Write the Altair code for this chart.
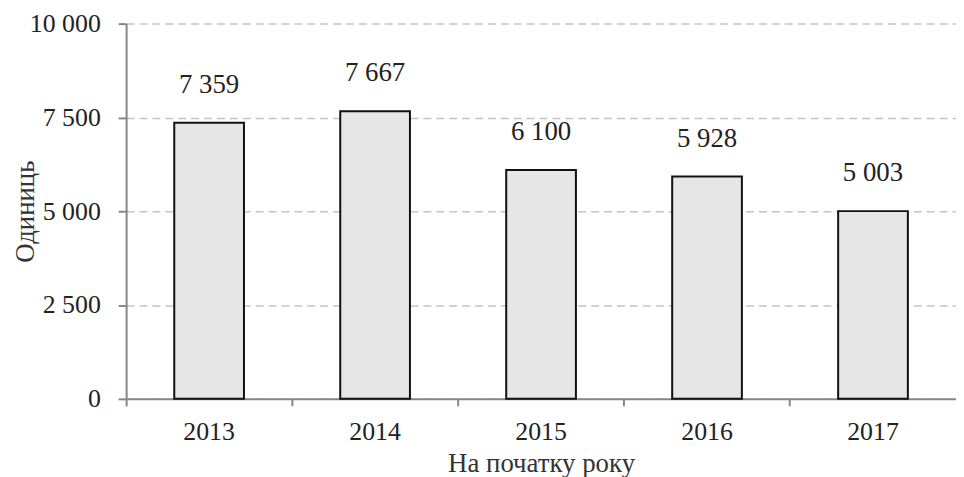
import altair as alt
import pandas as pd

years = ["2013", "2014", "2015", "2016", "2017"]
values = [7359, 7667, 6100, 5928, 5003]
y_ticks = [0, 2500, 5000, 7500, 10000]

df = pd.DataFrame({"year": years, "value": values})

FONT = "Liberation Serif"

base = alt.Chart(df).encode(
    x=alt.X("year:N", sort=years,
            scale=alt.Scale(paddingInner=0, paddingOuter=0),
            axis=alt.Axis(title="На початку року", labelAngle=0,
                          labelFontSize=26, titleFontSize=27,
                          labelPadding=13, titlePadding=6,
                          tickSize=7, tickWidth=2, tickColor="#868686",
                          bandPosition=0, domainColor="#868686",
                          domainWidth=2, grid=False, labelColor="#222222",
                          titleColor="#333333", titleFontWeight="normal")),
)

bars = base.mark_bar(width=alt.RelativeBandSize(0.42), fill="#e6e6e6",
                     stroke="#111111", strokeWidth=2).encode(
    y=alt.Y("value:Q", scale=alt.Scale(domain=[0, 10000], nice=False),
            axis=alt.Axis(title="Одиниць", values=y_ticks, format=",.0f",
                          labelFontSize=26, titleFontSize=27,
                          labelPadding=18, tickSize=8, tickWidth=2,
                          tickColor="#868686", domainColor="#868686",
                          domainWidth=2, gridColor="#c4c4c4", gridDash=[8, 5],
                          gridWidth=1.5, labelColor="#222222",
                          titleColor="#333333", titleFontWeight="normal",
                          titleX=-101, titleY=189, titleBaseline="middle")),
)

labels = base.mark_text(fontSize=27, font=FONT, color="#222222",
                        baseline="alphabetic", dy=-30).encode(
    y="value:Q",
    text=alt.Text("value:Q", format=",.0f"),
)

chart = (bars + labels).properties(width=836, height=378,
                                   padding={"left": 4, "top": 1, "right": 0, "bottom": 0}).configure(
    font=FONT,
    locale={"number": {"decimal": ",", "thousands": "\u00a0", "grouping": [3],
                       "currency": ["", ""]}},
).configure_view(stroke=None).configure_axis(labelFont=FONT, titleFont=FONT)

chart.save("out.html", embed_options={"renderer": "svg", "actions": False})
